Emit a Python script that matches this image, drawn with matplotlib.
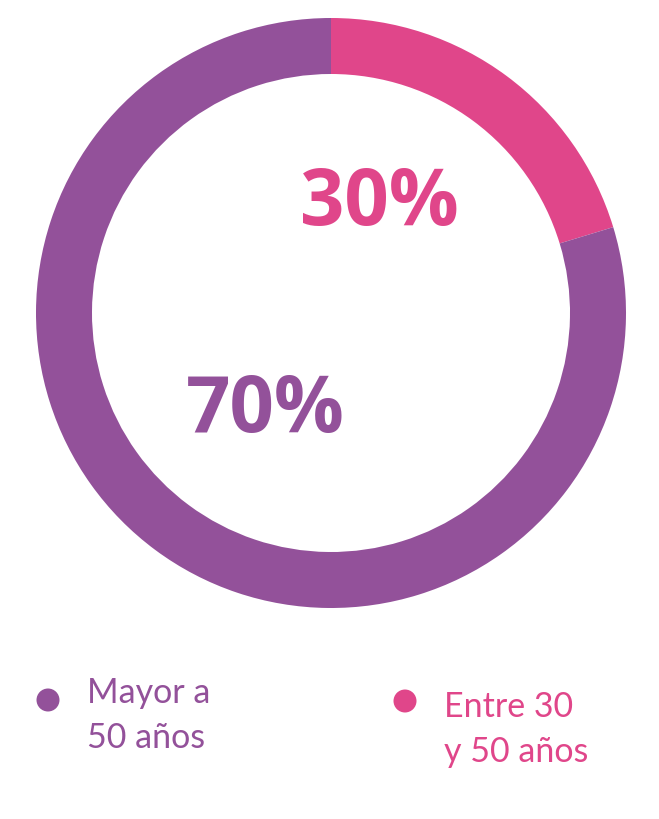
import matplotlib
matplotlib.use("Agg")
import matplotlib.pyplot as plt
from matplotlib.patches import Circle

# Data
categories = [["Entre 30", "y 50 años"], ["Mayor a", "50 años"]]
pct_labels = ["30%", "70%"]
arc_share = [20.3, 79.7]  # share of the ring drawn in the picture
colors = ["#E0468A", "#93519A"]

W, H = 659, 819
fig = plt.figure(figsize=(W / 100, H / 100), dpi=100)
ax = fig.add_axes([0, 0, 1, 1])

cx, cy, R = 331, H - 313, 295
ax.pie(arc_share, colors=colors, startangle=90, counterclock=False,
       radius=R, center=(cx, cy), frame=True,
       wedgeprops=dict(width=56, linewidth=0))
ax.set_xlim(0, W)
ax.set_ylim(0, H)
ax.set_aspect("equal")
ax.axis("off")

ax.text(379, H - 225, pct_labels[0], color=colors[0], fontsize=56,
        fontweight="bold", family="Open Sans", ha="center", va="baseline")
ax.text(265, H - 432, pct_labels[1], color=colors[1], fontsize=56,
        fontweight="bold", family="Open Sans", ha="center", va="baseline")

# Legend
ax.add_patch(Circle((48, H - 700), 11.5, color=colors[1], lw=0))
ax.add_patch(Circle((405, H - 701), 11.5, color=colors[0], lw=0))
for i, line in enumerate(categories[1]):
    ax.text(87, H - (703 + 45 * i), line, color=colors[1], fontsize=24.5,
            fontweight="normal", family="Lato", ha="left", va="baseline")
for i, line in enumerate(categories[0]):
    ax.text(444, H - (717 + 45 * i), line, color=colors[0], fontsize=24.5,
            fontweight="normal", family="Lato", ha="left", va="baseline")

fig.savefig("out.png", dpi=100)
